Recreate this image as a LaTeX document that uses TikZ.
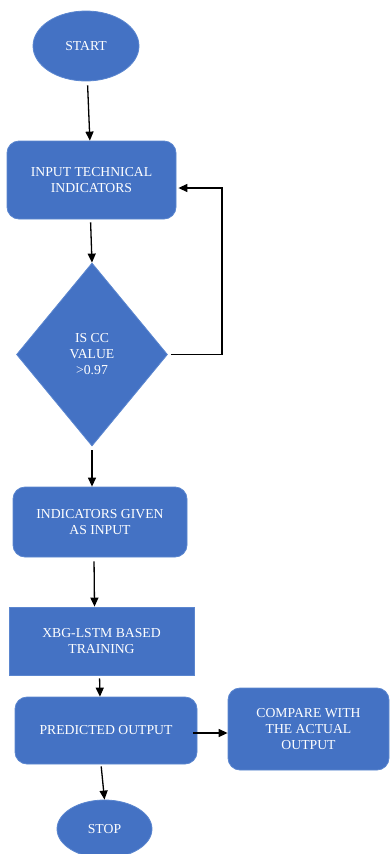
\documentclass[tikz,border=0pt]{standalone}
\usepackage{fontspec}
\setmainfont{Liberation Serif}
\usetikzlibrary{shapes.geometric,arrows.meta}
\definecolor{fcblue}{HTML}{4472C4}
\definecolor{fcedge}{HTML}{5B86CF}
\begin{document}
\begin{tikzpicture}[x=1pt,y=-1pt,
  blk/.style={fill=fcblue,draw=fcedge,line width=0.8pt,text=white,align=center,
    font=\fontsize{13.7}{16}\selectfont,inner sep=2pt},
  rbox/.style={blk,rectangle,rounded corners=12pt},
  sbox/.style={blk,rectangle},
  oval/.style={blk,ellipse},
  dia/.style={blk,diamond,inner sep=0pt},
  arr/.style={line width=1.3pt,-{Triangle[length=9pt,width=8pt]}}]
\useasboundingbox (0,0) rectangle (390,854);
\node[oval,minimum width=106pt,minimum height=70pt] (start) at (86,46) {START};
\node[rbox,minimum width=169pt,minimum height=78pt] (input) at (91.5,180) {INPUT TECHNICAL\\INDICATORS};
\node[dia,minimum width=151pt,minimum height=183pt] (dec) at (92,354.5) {IS CC\\VALUE\\>0.97};
\node[rbox,minimum width=174pt,minimum height=70pt] (ind) at (100,522) {INDICATORS GIVEN\\AS INPUT};
\node[sbox,minimum width=185pt,minimum height=68pt] (xbg) at (101.5,641) {XBG-LSTM BASED\\TRAINING};
\node[rbox,minimum width=182pt,minimum height=67pt] (pred) at (106,730.5) {PREDICTED OUTPUT};
\node[rbox,minimum width=161pt,minimum height=82pt] (cmp) at (308.5,729) {COMPARE WITH\\THE ACTUAL\\OUTPUT};
\node[oval,minimum width=95pt,minimum height=58pt] (stop) at (104.5,829) {STOP};
\coordinate (loopc) at (222,354.5);
\draw[arr,shorten <=4pt] (start) -- (input);
\draw[arr,shorten <=3pt] ([xshift=-1pt]input.south) -- (dec.north);
\draw[arr,shorten <=4pt] (dec.south) -- (ind.north -| dec.south);
\draw[arr,shorten <=4pt] ([xshift=-6pt]ind.south) -- ([xshift=-7pt]xbg.north);
\draw[arr,shorten <=3pt] ([xshift=-2pt]xbg.south) -- ([xshift=-6pt]pred.north);
\draw[arr,shorten <=2pt] ([xshift=-5pt]pred.south) -- (stop.north);
\draw[arr] ([yshift=-2.5pt,xshift=-4pt]pred.east) -- ([yshift=-4pt]cmp.west);
\draw[line width=1.3pt,shorten <=3pt] (dec.east) -- (loopc);
\draw[arr] (loopc) |- ([yshift=-8pt,xshift=2pt]input.east);
\end{tikzpicture}
\end{document}
